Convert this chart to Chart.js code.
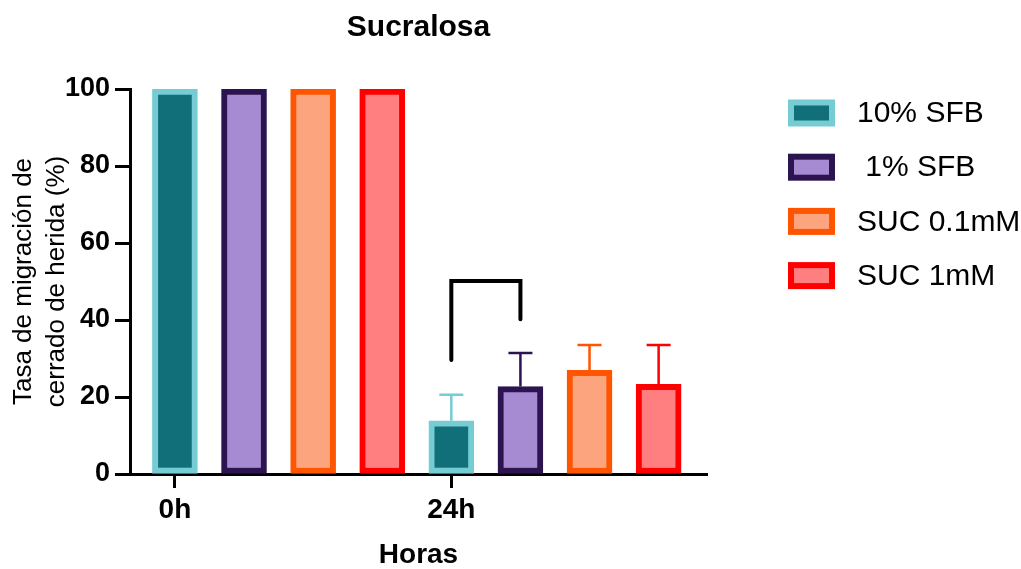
<!DOCTYPE html>
<html><head><meta charset="utf-8">
<script src="https://cdn.jsdelivr.net/npm/chart.js@4"></script>
<style>html,body{margin:0;padding:0;background:#fff}#wrap{width:1021px;height:569px;position:relative}</style>
</head><body><div id="wrap"><canvas id="c"></canvas></div>
<script>
const categories = ['0h', '24h'];
const seriesNames = ['10% SFB', ' 1% SFB', 'SUC 0.1mM', 'SUC 1mM'];
const sfb10 = [100, 13.8];
const sfb1 = [100, 22.7];
const suc01 = [100, 26.9];
const suc1 = [100, 23.3];
const sfb10Sd = [0, 6.8];
const sfb1Sd = [0, 8.7];
const suc01Sd = [0, 6.6];
const suc1Sd = [0, 10.2];
const yTicks = [0, 20, 40, 60, 80, 100];
const bracketGroup = 1;
const bracketPair = [0, 1];
const bracketLevels = [29.6, 50.1, 40.2];

const fills = ['#106F79', '#A68AD2', '#FBA47E', '#FF7E80'];
const borders = ['#75CCD2', '#2C1450', '#FF5500', '#FF0000'];

const FONT = '"Liberation Sans", Arial, sans-serif';
Chart.defaults.font.family = FONT;
Chart.defaults.color = '#000';

const values = [sfb10, sfb1, suc01, suc1];
const sds = [sfb10Sd, sfb1Sd, suc01Sd, suc1Sd];
const nS = values.length;

const datasets = values.map((vals, s) => ({
  label: seriesNames[s],
  data: vals.map((v, g) => ({x: g * nS + s, y: v})),
  sd: sds[s],
  backgroundColor: fills[s],
  borderColor: borders[s],
  borderWidth: 6,
  borderSkipped: false,
  barThickness: 45,
  grouped: false
}));

const errorBars = {
  id: 'errorBars',
  afterDatasetsDraw(chart) {
    const ctx = chart.ctx, yScale = chart.scales.y;
    chart.data.datasets.forEach((ds, s) => {
      const meta = chart.getDatasetMeta(s);
      meta.data.forEach((bar, g) => {
        const sd = ds.sd[g];
        if (!sd) return;
        const v = ds.data[g].y;
        const yTop = yScale.getPixelForValue(v + sd);
        ctx.save();
        ctx.strokeStyle = ds.borderColor;
        ctx.lineWidth = 2.5;
        ctx.beginPath();
        ctx.moveTo(bar.x, bar.y);
        ctx.lineTo(bar.x, yTop);
        ctx.moveTo(bar.x - 12, yTop);
        ctx.lineTo(bar.x + 12, yTop);
        ctx.stroke();
        ctx.restore();
      });
    });
    // significance bracket
    const xScale = chart.scales.x;
    const xs = bracketPair.map(s => xScale.getPixelForValue(bracketGroup * nS + s));
    const ys = bracketLevels.map(v => yScale.getPixelForValue(v));
    ctx.save();
    ctx.strokeStyle = '#000';
    ctx.lineWidth = 4;
    ctx.lineJoin = 'miter';
    ctx.lineCap = 'round';
    ctx.beginPath();
    ctx.moveTo(xs[0], ys[0]);
    ctx.lineTo(xs[0], ys[1]);
    ctx.lineTo(xs[1], ys[1]);
    ctx.lineTo(xs[1], ys[2]);
    ctx.stroke();
    ctx.restore();
  }
};

const sideLegend = {
  id: 'sideLegend',
  afterDraw(chart) {
    const ctx = chart.ctx;
    const bx = 788, y0 = 113, step = 54.2, bw = 47, bh = 27, bwid = 6, tx = 857;
    ctx.save();
    chart.data.datasets.forEach((ds, s) => {
      const cy = y0 + s * step;
      ctx.fillStyle = ds.borderColor;
      ctx.fillRect(bx, cy - bh / 2, bw, bh);
      ctx.fillStyle = ds.backgroundColor;
      ctx.fillRect(bx + bwid, cy - bh / 2 + bwid, bw - 2 * bwid, bh - 2 * bwid);
      ctx.fillStyle = '#000';
      ctx.font = '30px ' + FONT;
      ctx.textBaseline = 'middle';
      ctx.textAlign = 'left';
      ctx.fillText(ds.label, tx, cy + 1);
    });
    ctx.restore();
  }
};

new Chart(document.getElementById('c'), {
  type: 'bar',
  data: {datasets},
  options: {
    responsive: true,
    maintainAspectRatio: false,
    animation: false,
    devicePixelRatio: 1,
    layout: {padding: {left: 0, right: 314, top: 0, bottom: 0}},
    plugins: {
      legend: {display: false},
      tooltip: {enabled: false},
      title: {
        display: true,
        text: 'Sucralosa',
        fullSize: false,
        color: '#000',
        font: {size: 30, weight: 'bold', lineHeight: 1.2},
        padding: {top: 10, bottom: 43}
      }
    },
    scales: {
      x: {
        type: 'linear',
        min: -0.65,
        max: 7.7,
        offset: false,
        z: 1,
        afterBuildTicks: s => { s.ticks = categories.map((c, g) => ({value: g * nS})); },
        ticks: {
          callback: v => categories[Math.round(v / nS)],
          font: {size: 28, weight: 'bold'},
          color: '#000',
          padding: 5,
          maxRotation: 0,
          autoSkip: false
        },
        grid: {offset: false, drawOnChartArea: false, drawTicks: true, tickLength: 14, tickWidth: 3, tickColor: '#000'},
        border: {display: true, width: 3, color: '#000'},
        title: {display: true, text: 'Horas', color: '#000', font: {size: 28, weight: 'bold', lineHeight: 1}, padding: {top: 0, bottom: 0}},
        afterFit: s => { s.height = 95; }
      },
      y: {
        type: 'linear',
        min: 0,
        max: 100,
        z: 1,
        afterBuildTicks: s => { s.ticks = yTicks.map(v => ({value: v})); },
        ticks: {font: {size: 27, weight: 'bold'}, color: '#000', padding: 5},
        grid: {drawOnChartArea: false, drawTicks: true, tickLength: 15, tickWidth: 3, tickColor: '#000'},
        border: {display: true, width: 3, color: '#000'},
        title: {
          display: true,
          text: ['Tasa de migración de', 'cerrado de herida (%)'],
          color: '#000',
          font: {size: 26, weight: 'normal', lineHeight: 1.27},
          padding: {top: 7.5, bottom: 0}
        },
        afterFit: s => { s.width = 130; }
      }
    }
  },
  plugins: [errorBars, sideLegend]
});
</script>
</body></html>
